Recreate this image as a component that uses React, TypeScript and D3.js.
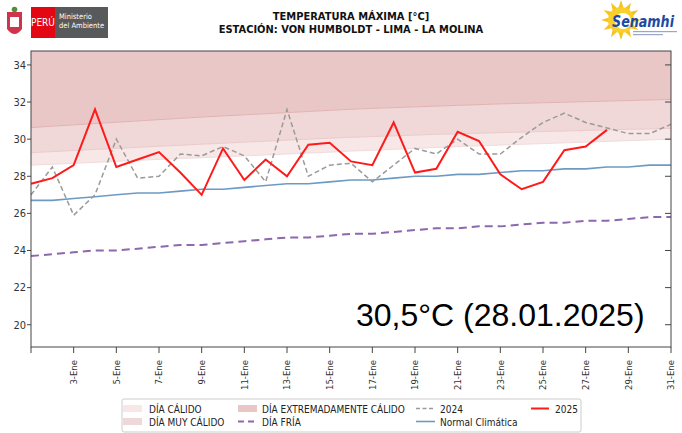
import React from "react";
import * as d3 from "d3";

const W = 682;
const H = 433;
const margin = { top: 51, right: 11, bottom: 86, left: 31 };

const days = d3.range(1, 32);
const tickDays = [1, 3, 5, 7, 9, 11, 13, 15, 17, 19, 21, 23, 25, 27, 29, 31];
const yTicks = [20, 22, 24, 26, 28, 30, 32, 34];

// umbrales (p90 / p95 / p99)
const p90 = [28.6, 28.65, 28.7, 28.75, 28.8, 28.86, 28.91, 28.96, 29.0, 29.05, 29.1, 29.15, 29.2, 29.25, 29.3, 29.36, 29.4, 29.45, 29.5, 29.55, 29.6, 29.64, 29.68, 29.72, 29.76, 29.8, 29.84, 29.88, 29.92, 29.96, 30.0];
const p95 = [29.27, 29.33, 29.39, 29.45, 29.5, 29.56, 29.62, 29.67, 29.73, 29.78, 29.84, 29.89, 29.95, 30.0, 30.05, 30.1, 30.14, 30.18, 30.22, 30.26, 30.29, 30.32, 30.35, 30.38, 30.41, 30.44, 30.47, 30.5, 30.53, 30.55, 30.58];
const p99 = [30.62, 30.7, 30.77, 30.84, 30.91, 30.98, 31.05, 31.12, 31.19, 31.25, 31.31, 31.37, 31.43, 31.49, 31.55, 31.61, 31.66, 31.7, 31.74, 31.78, 31.82, 31.86, 31.9, 31.93, 31.96, 31.99, 32.02, 32.05, 32.08, 32.11, 32.14];

const normal = [26.7, 26.7, 26.8, 26.9, 27.0, 27.1, 27.1, 27.2, 27.3, 27.3, 27.4, 27.5, 27.6, 27.6, 27.7, 27.8, 27.8, 27.9, 28.0, 28.0, 28.1, 28.1, 28.2, 28.3, 28.3, 28.4, 28.4, 28.5, 28.5, 28.6, 28.6];
const fria = [23.7, 23.8, 23.9, 24.0, 24.0, 24.1, 24.2, 24.3, 24.3, 24.4, 24.5, 24.6, 24.7, 24.7, 24.8, 24.9, 24.9, 25.0, 25.1, 25.2, 25.2, 25.3, 25.3, 25.4, 25.5, 25.5, 25.6, 25.6, 25.7, 25.8, 25.8];
const y2024 = [27.0, 28.5, 25.9, 27.0, 30.0, 27.9, 28.0, 29.2, 29.1, 29.6, 29.1, 27.7, 31.6, 28.0, 28.6, 28.7, 27.7, 28.6, 29.5, 29.2, 30.0, 29.2, 29.2, 30.1, 30.9, 31.4, 30.9, 30.6, 30.3, 30.3, 30.8];
const y2025 = [27.6, 27.9, 28.6, 31.6, 28.5, 28.9, 29.3, 28.2, 27.0, 29.5, 27.8, 28.9, 28.0, 29.7, 29.8, 28.8, 28.6, 30.9, 28.2, 28.4, 30.4, 29.9, 28.1, 27.3, 27.7, 29.4, 29.6, 30.5];

const cBand1 = "#f7e7e7";
const cBand2 = "#f1d8d8";
const cBand3 = "#eac7c7";
const labelFont = "'DejaVu Sans Condensed', 'DejaVu Sans', sans-serif";

export default function App() {
  const x = d3.scaleLinear([1, 31], [margin.left, W - margin.right]);
  const y = d3.scaleLinear([18.8, 34.75], [H - margin.bottom, margin.top]);
  const top = y.domain()[1];

  const band = (lo: number[], hi: (i: number) => number) =>
    d3
      .area<number>()
      .x((d) => x(d))
      .y0((_, i) => y(lo[i]))
      .y1((_, i) => y(hi(i)))(days) as string;

  const line = (vals: number[]) =>
    d3
      .line<number>()
      .x((_, i) => x(days[i]))
      .y((d) => y(d))(vals) as string;

  const x0 = x.range()[0];
  const x1 = x.range()[1];
  const yb = y.range()[0];
  const yt = y.range()[1];

  return (
    <svg width={W} height={H} style={{ position: "absolute", left: 0, top: 0, background: "#fff" }}>
      {/* logos */}
      <g>
        <path d="M7,12 L22,12 L22,29 Q14.5,39 7,29 Z" fill="#c8102e" opacity={0.85} />
        <rect x={10} y={17} width={9} height={10} fill="#fff" />
        <circle cx={14.5} cy={9.5} r={2.8} fill="#5a8a3a" />
        <rect x={31} y={7} width={24} height={31} fill="#e30613" />
        <text x={43} y={26} fill="#fff" fontSize={10} fontFamily={labelFont} textAnchor="middle">PERÚ</text>
        <rect x={55} y={7} width={53} height={31} fill="#58595b" />
        <text x={59} y={19} fill="#fff" fontSize={7.5} fontFamily={labelFont}>Ministerio</text>
        <text x={59} y={28} fill="#fff" fontSize={7.5} fontFamily={labelFont}>del Ambiente</text>
      </g>
      <g>
        {d3.range(12).map((k) => {
          const a = (k / 12) * 2 * Math.PI;
          return (
            <path
              key={k}
              d={`M${621 + Math.cos(a - 0.22) * 12},${20 + Math.sin(a - 0.22) * 12} L${621 + Math.cos(a) * 20},${20 + Math.sin(a) * 20} L${621 + Math.cos(a + 0.22) * 12},${20 + Math.sin(a + 0.22) * 12} Z`}
              fill="#f7c21a"
            />
          );
        })}
        <circle cx={621} cy={20} r={13} fill="#f9cf2a" />
        <circle cx={623} cy={21} r={8} fill="#fff" />
        <text x={612} y={27} fill="#1d4aa0" fontSize={15} fontWeight="bold" fontStyle="italic" fontFamily={labelFont} textLength={62} lengthAdjust="spacingAndGlyphs">Senamhi</text>
        <rect x={633} y={31} width={44} height={1.2} fill="#9aa6c8" />
        <rect x={633} y={34} width={30} height={1.2} fill="#9aa6c8" />
      </g>

      {/* título */}
      <text x={351} y={20} textAnchor="middle" fontSize={11} fontWeight="bold" fontFamily={labelFont} fill="#111">
        TEMPERATURA MÁXIMA [°C]
      </text>
      <text x={351} y={33} textAnchor="middle" fontSize={11} fontWeight="bold" fontFamily={labelFont} fill="#111">
        ESTACIÓN: VON HUMBOLDT - LIMA - LA MOLINA
      </text>

      {/* bandas */}
      <path d={band(p90, (i) => p95[i])} fill={cBand1} />
      <path d={band(p95, (i) => p99[i])} fill={cBand2} />
      <path d={band(p99, () => top)} fill={cBand3} />
      <path d={line(p90)} fill="none" stroke="#f0dcdc" strokeWidth={1} />
      <path d={line(p95)} fill="none" stroke="#ebcaca" strokeWidth={1} />
      <path d={line(p99)} fill="none" stroke="#e2b2b2" strokeWidth={1} />

      {/* series */}
      <path d={line(normal)} fill="none" stroke="#6d9ac3" strokeWidth={1.6} />
      <path d={line(fria)} fill="none" stroke="#8c68ad" strokeWidth={2} strokeDasharray="8,5" />
      <path d={line(y2024)} fill="none" stroke="#9a9a9a" strokeWidth={1.5} strokeDasharray="5,3" />
      <path d={line(y2025)} fill="none" stroke="#ff1a1a" strokeWidth={2} />

      {/* ejes */}
      <rect x={x0} y={yt} width={x1 - x0} height={yb - yt} fill="none" stroke="#444" strokeWidth={1} />
      {yTicks.map((t) => (
        <g key={t}>
          <line x1={x0 - 4} x2={x0} y1={y(t)} y2={y(t)} stroke="#444" />
          <line x1={x1 - 6} x2={x1} y1={y(t)} y2={y(t)} stroke="#444" />
          <text x={x0 - 5} y={y(t)} dy="0.35em" textAnchor="end" fontSize={11} fontFamily={labelFont} fill="#333">
            {t}
          </text>
        </g>
      ))}
      {tickDays.map((d) => (
        <g key={d}>
          <line x1={x(d)} x2={x(d)} y1={yb} y2={yb + 6} stroke="#444" />
          {d > 1 && (
            <text
              transform={`translate(${x(d)},${yb + 13}) rotate(-90)`}
              dy="0.35em"
              textAnchor="end"
              fontSize={9.5}
              fontFamily={labelFont}
              fill="#333"
            >
              {`${d}-Ene`}
            </text>
          )}
        </g>
      ))}

      {/* anotación */}
      <text x={356} y={326} fontSize={32} fontFamily="'Liberation Sans', Arial, sans-serif" fill="#000">
        30,5°C (28.01.2025)
      </text>

      {/* leyenda */}
      <g fontFamily={labelFont} fontSize={10} fill="#222">
        <rect x={122} y={399} width={459} height={33} fill="#fff" stroke="#ccc" strokeWidth={1} rx={2} />
        <rect x={123} y={405} width={19} height={7} fill={cBand1} />
        <text x={149} y={412.5}>DÍA CÁLIDO</text>
        <rect x={123} y={418} width={19} height={7} fill={cBand2} />
        <text x={149} y={426}>DÍA MUY CÁLIDO</text>
        <rect x={238} y={405} width={19} height={7} fill={cBand3} />
        <text x={262} y={412.5}>DÍA EXTREMADAMENTE CÁLIDO</text>
        <line x1={238} x2={257} y1={421.5} y2={421.5} stroke="#8c68ad" strokeWidth={2} strokeDasharray="6,4" />
        <text x={262} y={426}>DÍA FRÍA</text>
        <line x1={416} x2={435} y1={408.5} y2={408.5} stroke="#9a9a9a" strokeWidth={1.5} strokeDasharray="4,2.5" />
        <text x={440} y={412.5}>2024</text>
        <line x1={416} x2={435} y1={421.5} y2={421.5} stroke="#6d9ac3" strokeWidth={1.6} />
        <text x={440} y={426}>Normal Climática</text>
        <line x1={531} x2={549} y1={408.5} y2={408.5} stroke="#ff1a1a" strokeWidth={2} />
        <text x={555} y={412.5}>2025</text>
      </g>
    </svg>
  );
}
